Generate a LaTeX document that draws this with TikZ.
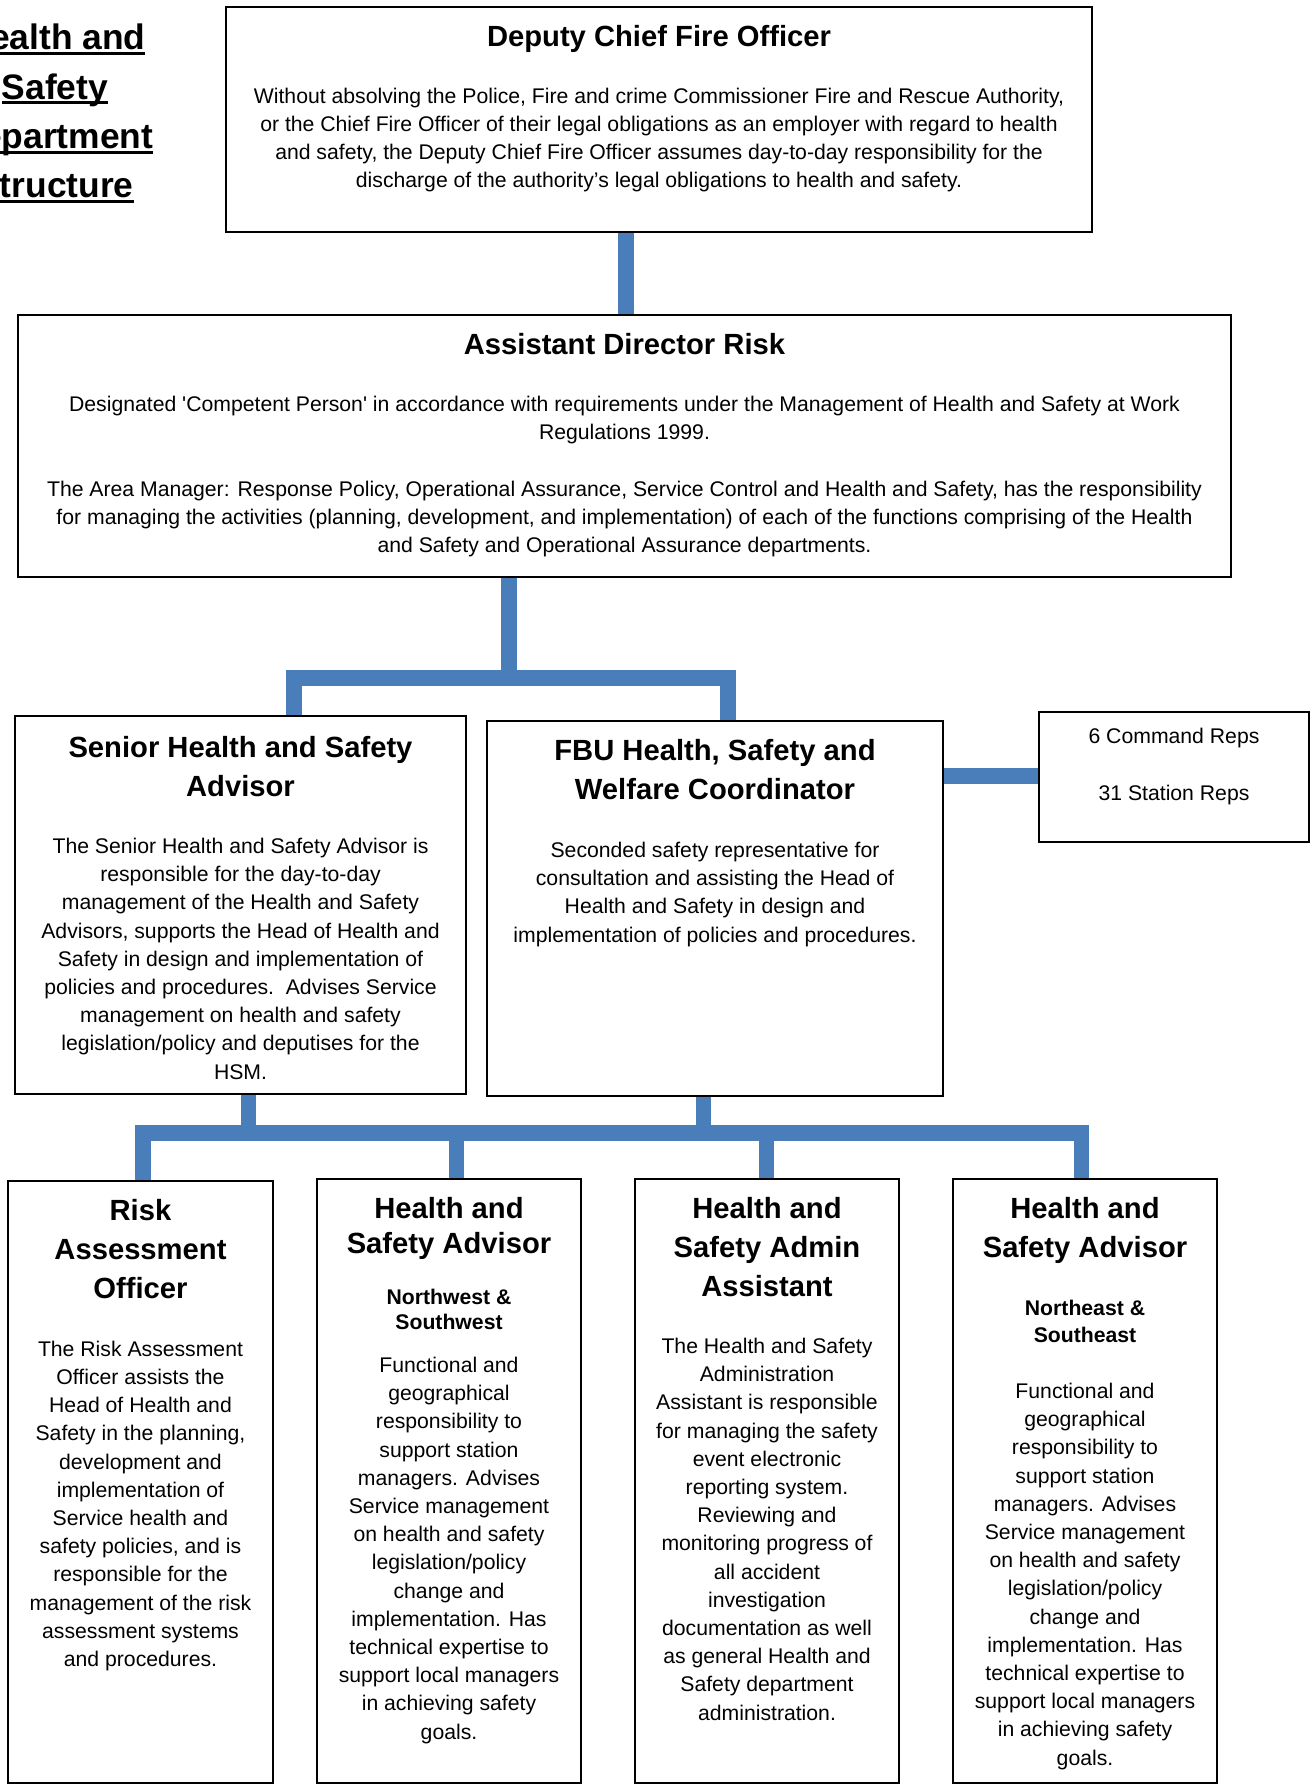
\documentclass[tikz,border=0pt]{standalone}
\usepackage{fontspec}
\setmainfont{Liberation Sans}
\usetikzlibrary{fit}

\definecolor{linkblue}{RGB}{74,126,187}
\newcommand{\uln}[1]{\setbox0\hbox{#1}\rlap{\rule[-2.6pt]{\wd0}{1.6pt}}\box0}

\begin{document}
\begin{tikzpicture}[x=0.5pt, y=-0.5pt,
  box/.style={draw, line width=0.9pt, inner sep=0pt},
  head/.style={align=center, anchor=base, font=\bfseries\fontsize{14.6}{19.5}\selectfont},
  body/.style={align=center, anchor=base, font=\fontsize{10.6}{14.1}\selectfont},
  sub/.style={align=center, anchor=base, font=\bfseries\fontsize{10.6}{12.5}\selectfont},
  link/.style={draw=linkblue, line width=7.8pt, line join=miter}]

  \useasboundingbox (0,0) rectangle (1311,1787);

  % page heading, cut at the left edge (base = last line)
  \node[align=center, anchor=base, font=\bfseries\fontsize{17.7}{24.7}\selectfont] (heading) at (55,198)
    {\uln{Health and}\\ \uln{Safety}\\ \uln{Department}\\ \uln{Structure}};

  % boxes
  \node[box, fit={(226,7) (1092,232)}] (dcfo) {};
  \node[box, fit={(18,315) (1231,577)}] (adr) {};
  \node[box, fit={(15,716) (466,1094)}] (shsa) {};
  \node[box, fit={(487,721) (943,1096)}] (fbu) {};
  \node[box, fit={(1039,712) (1309,842)}] (reps) {};
  \node[box, fit={(8,1181) (273,1783)}] (rao) {};
  \node[box, fit={(317,1179) (581,1783)}] (hsa1) {};
  \node[box, fit={(635,1179) (899,1783)}] (hsaa) {};
  \node[box, fit={(953,1179) (1217,1783)}] (hsa2) {};

  % Deputy Chief Fire Officer
  \node[head] (dcfoT) at (659,47) {Deputy Chief Fire Officer};
  \node[body] (dcfoB) at (659,188) {Without absolving the Police, Fire and crime Commissioner Fire and Rescue Authority,\\
    or the Chief Fire Officer of their legal obligations as an employer with regard to health\\
    and safety, the Deputy Chief Fire Officer assumes day-to-day responsibility for the\\
    discharge of the authority’s legal obligations to health and safety.};

  % Assistant Director Risk
  \node[head] (adrT) at (624.5,354) {Assistant Director Risk};
  \node[body] (adrB) at (624.5,552.5) {Designated \textquotesingle Competent Person\textquotesingle{} in accordance with requirements under the Management of Health and Safety at Work\\
    Regulations 1999.\\[14.1pt]
    The Area Manager: Response Policy, Operational Assurance, Service Control and Health and Safety, has the responsibility\\
    for managing the activities (planning, development, and implementation) of each of the functions comprising of the Health\\
    and Safety and Operational Assurance departments.};

  % Senior Health and Safety Advisor
  \node[head] (shsaT) at (240.5,796) {Senior Health and Safety\\ Advisor};
  \node[body] (shsaB) at (240.5,1079) {The Senior Health and Safety Advisor is\\
    responsible for the day-to-day\\
    management of the Health and Safety\\
    Advisors, supports the Head of Health and\\
    Safety in design and implementation of\\
    policies and procedures.\ \ Advises Service\\
    management on health and safety\\
    legislation/policy and deputises for the\\
    HSM.};

  % FBU coordinator
  \node[head] (fbuT) at (715,799) {FBU Health, Safety and\\ Welfare Coordinator};
  \node[body] (fbuB) at (715,942) {Seconded safety representative for\\
    consultation and assisting the Head of\\
    Health and Safety in design and\\
    implementation of policies and procedures.};

  \node[body] (repsB) at (1174,800) {6 Command Reps\\[14.1pt] 31 Station Reps};

  % Risk Assessment Officer
  \node[head] (raoT) at (140.5,1298) {Risk\\ Assessment\\ Officer};
  \node[body] (raoB) at (140.5,1666.5) {The Risk Assessment\\ Officer assists the\\ Head of Health and\\
    Safety in the planning,\\ development and\\ implementation of\\ Service health and\\
    safety policies, and is\\ responsible for the\\ management of the risk\\
    assessment systems\\ and procedures.};

  % Health and Safety Advisor (NW & SW)
  \node[head, font=\bfseries\fontsize{14.6}{17.7}\selectfont] (hsa1T) at (449,1253.5) {Health and\\ Safety Advisor};
  \node[sub] (hsa1S) at (449,1329.5) {Northwest \&\\ Southwest};
  \node[body] (hsa1B) at (449,1739) {Functional and\\ geographical\\ responsibility to\\ support station\\
    managers. Advises\\ Service management\\ on health and safety\\ legislation/policy\\
    change and\\ implementation. Has\\ technical expertise to\\ support local managers\\
    in achieving safety\\ goals.};

  % Health and Safety Admin Assistant
  \node[head] (hsaaT) at (767,1296) {Health and\\ Safety Admin\\ Assistant};
  \node[body] (hsaaB) at (767,1720) {The Health and Safety\\ Administration\\ Assistant is responsible\\
    for managing the safety\\ event electronic\\ reporting system.\\ Reviewing and\\
    monitoring progress of\\ all accident\\ investigation\\ documentation as well\\
    as general Health and\\ Safety department\\ administration.};

  % Health and Safety Advisor (NE & SE)
  \node[head] (hsa2T) at (1085,1257) {Health and\\ Safety Advisor};
  \node[sub, font=\bfseries\fontsize{10.6}{13.5}\selectfont] (hsa2S) at (1085,1342.5) {Northeast \&\\ Southeast};
  \node[body] (hsa2B) at (1085,1765) {Functional and\\ geographical\\ responsibility to\\ support station\\
    managers. Advises\\ Service management\\ on health and safety\\ legislation/policy\\
    change and\\ implementation. Has\\ technical expertise to\\ support local managers\\
    in achieving safety\\ goals.};

  % connectors
  \coordinate (jA) at (509,678);
  \coordinate (jB) at (248.5,1133);
  \coordinate (jC) at (703.5,1133);
  \coordinate (jD) at (456.5,1133);
  \coordinate (jE) at (766.5,1133);

  \draw[link] (dcfo.south -| 626,0) -- (adr.north -| 626,0);
  \draw[link] (adr.south -| jA) -- (jA);
  \draw[link] (shsa.north -| 294,0) |- (728,678) -- (fbu.north -| 728,0);
  \draw[link] (fbu.east |- 0,776) -- (reps.west |- 0,776);

  \draw[link] (shsa.south -| jB) -- (jB);
  \draw[link] (fbu.south -| jC) -- (jC);
  \draw[link] (rao.north -| 143,0) |- (1081.5,1133) -- (hsa2.north -| 1081.5,0);
  \draw[link] (jD) -- (hsa1.north -| jD);
  \draw[link] (jE) -- (hsaa.north -| jE);

\end{tikzpicture}
\end{document}
